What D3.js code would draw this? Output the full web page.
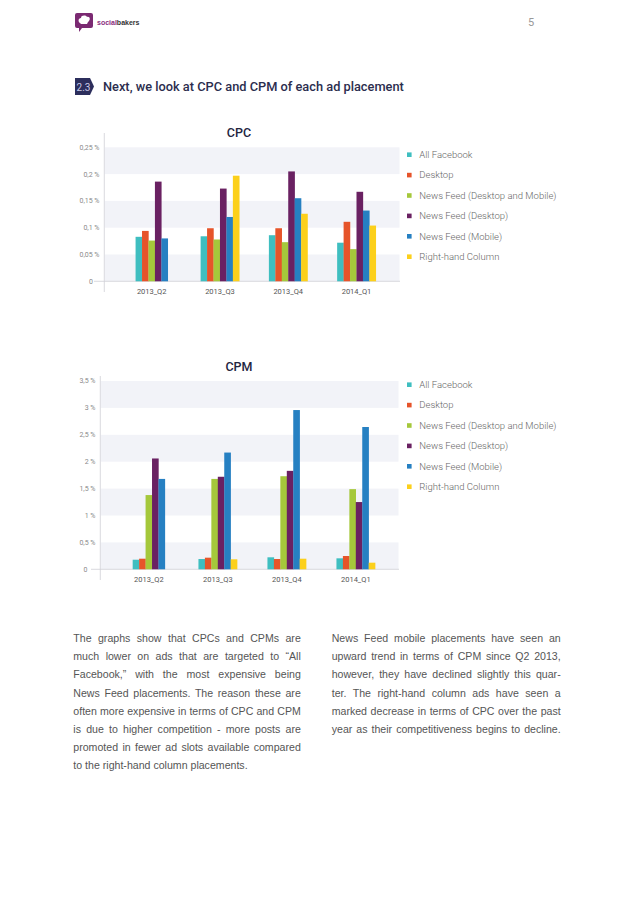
<!DOCTYPE html>
<meta charset="utf-8">
<style>
  body { margin: 0; background: #fff; width: 638px; height: 903px; position: relative; overflow: hidden; }
  svg { position: absolute; left: 0; top: 0; }
  .col { position: absolute; font: 10.6px "Liberation Sans", Arial, sans-serif; color: #555; }
  .col div { height: 18.2px; line-height: 18.2px; text-align: justify; text-align-last: justify; white-space: nowrap; }
  .col div.last { text-align-last: left; }
</style>
<body>
<svg width="638" height="903"></svg>
<script src="https://d3js.org/d3.v7.min.js"></script>
<script>

// categories and series
var quarters = ["2013_Q2", "2013_Q3", "2013_Q4", "2014_Q1"];
var series = ["All Facebook", "Desktop", "News Feed (Desktop and Mobile)",
              "News Feed (Desktop)", "News Feed (Mobile)", "Right-hand Column"];
var colors = ["#3fbec0", "#e6542a", "#a5c83b", "#6a2162", "#2680c2", "#fcd01b"];

// CPC values (in %) per series, one per quarter
var cpcAllFacebook      = [0.083, 0.084, 0.086, 0.072];
var cpcDesktop          = [0.094, 0.099, 0.099, 0.111];
var cpcNewsFeedAll      = [0.076, 0.078, 0.073, 0.060];
var cpcNewsFeedDesktop  = [0.186, 0.173, 0.205, 0.167];
var cpcNewsFeedMobile   = [0.080, 0.120, 0.155, 0.132];
var cpcRightHand        = [null,  0.197, 0.126, 0.104];

// CPM values (in %) per series, one per quarter
var cpmAllFacebook      = [0.178, 0.191, 0.223, 0.204];
var cpmDesktop          = [0.197, 0.216, 0.191, 0.247];
var cpmNewsFeedAll      = [1.38, 1.68, 1.73, 1.49];
var cpmNewsFeedDesktop  = [2.06, 1.72, 1.83, 1.25];
var cpmNewsFeedMobile   = [1.68, 2.17, 2.96, 2.645];
var cpmRightHand        = [null, 0.186, 0.197, 0.123];

// axis ticks
var cpcTicks = [0, 0.05, 0.1, 0.15, 0.2, 0.25];
var cpmTicks = [0, 0.5, 1, 1.5, 2, 2.5, 3, 3.5];

var leftText = [
  "The graphs show that CPCs and CPMs are",
  "much lower on ads that are targeted to \u201cAll",
  "Facebook,\u201d with the most expensive being",
  "News Feed placements. The reason these are",
  "often more expensive in terms of CPC and CPM",
  "is due to higher competition - more posts are",
  "promoted in fewer ad slots available compared",
  "to the right-hand column placements."
];
var rightText = [
  "News Feed mobile placements have seen an",
  "upward trend in terms of CPM since Q2 2013,",
  "however, they have declined slightly this quar-",
  "ter. The right-hand column ads have seen a",
  "marked decrease in terms of CPC over the past",
  "year as their competitiveness begins to decline."
];

var svg = d3.select("svg");

// ---- header ----
var logo = svg.append("g").attr("transform", "translate(75,13)");
logo.append("path")
    .attr("d", "M2,0 H16 a2,2 0 0 1 2,2 V13 a2,2 0 0 1 -2,2 H7 L4,19 V15 H2 a2,2 0 0 1 -2,-2 V2 a2,2 0 0 1 2,-2 Z")
    .attr("fill", "#7b2a72");
logo.append("path")
    .attr("d", "M5,10 C3,9 3,5 6,5 C6,2 11,2 12,4 C15,3 16,7 13,9 L12,11 H6 Z")
    .attr("fill", "#fff");
var brand = svg.append("text")
    .attr("x", 97).attr("y", 24.5)
    .style("font", "bold 7px 'Liberation Sans', Arial, sans-serif");
brand.append("tspan").attr("fill", "#8a2d7e").text("social");
brand.append("tspan").attr("fill", "#333").text("bakers");

svg.append("text")
    .attr("x", 531).attr("y", 26)
    .attr("text-anchor", "middle")
    .style("font", "11px Roboto, sans-serif")
    .attr("fill", "#999")
    .text("5");

// ---- section heading ----
svg.append("path")
    .attr("d", "M75,78 H90 L94,86.5 L90,95 H75 Z")
    .attr("fill", "#2c2e5c");
svg.append("text")
    .attr("x", 83.5).attr("y", 90.5)
    .attr("text-anchor", "middle")
    .style("font", "10px Roboto, sans-serif")
    .attr("fill", "#c9c9e6")
    .text("2.3");
svg.append("text")
    .attr("x", 103).attr("y", 91)
    .style("font", "500 12.8px Roboto, sans-serif")
    .attr("fill", "#2b2d4e")
    .text("Next, we look at CPC and CPM of each ad placement");

// ---- charts ----
function fmtTick(v) {
  return v === 0 ? "0" : String(v).replace(".", ",") + " %";
}

function drawChart(opt) {
  var g = svg.append("g");
  var y = d3.scaleLinear().domain([0, opt.ticks[opt.ticks.length - 1]]).range([opt.y0, opt.y1]);
  var x = d3.scalePoint().domain(quarters).range([opt.cx0, opt.cx1]);
  var barW = 6.45;

  // alternating bands
  for (var i = 0; i < opt.ticks.length - 1; i += 2) {
    g.append("rect")
        .attr("x", opt.left + 0.5)
        .attr("y", y(opt.ticks[i + 1]))
        .attr("width", opt.right - opt.left)
        .attr("height", y(opt.ticks[i]) - y(opt.ticks[i + 1]))
        .attr("fill", "#f2f3f8");
  }

  // y tick labels
  g.selectAll(".ytick")
    .data(opt.ticks)
    .enter().append("text")
      .attr("x", function(d) { return d === 0 ? opt.labelX - opt.zeroShift : opt.labelX; })
      .attr("y", function(d) { return y(d); })
      .attr("dy", "0.35em")
      .attr("text-anchor", "end")
      .style("font", "7px Roboto, sans-serif")
      .attr("fill", "#8a8a8a")
      .text(fmtTick);

  // axis lines
  g.append("line")
      .attr("x1", opt.left).attr("x2", opt.left)
      .attr("y1", opt.axisTop).attr("y2", opt.axisBottom)
      .attr("stroke", "#cfcfd6").attr("stroke-width", 0.8);
  g.append("line")
      .attr("x1", opt.baseLeft).attr("x2", opt.right + 1)
      .attr("y1", y(0)).attr("y2", y(0))
      .attr("stroke", "#cfcfd6").attr("stroke-width", 0.8);

  // bars, each group centred on its label using only the series present
  quarters.forEach(function(q, qi) {
    var present = [];
    opt.values.forEach(function(arr, si) {
      if (arr[qi] != null) present.push({ s: si, v: arr[qi] });
    });
    var start = x(q) - present.length * barW / 2;
    g.selectAll(null)
      .data(present)
      .enter().append("rect")
        .attr("x", function(d, k) { return start + k * barW; })
        .attr("y", function(d) { return y(d.v); })
        .attr("width", barW + 0.2)
        .attr("height", function(d) { return y(0) - y(d.v); })
        .attr("fill", function(d) { return colors[d.s]; });
  });

  // category labels
  g.selectAll(".xtick")
    .data(quarters)
    .enter().append("text")
      .attr("x", function(d) { return x(d); })
      .attr("y", opt.catY)
      .attr("text-anchor", "middle")
      .style("font", "7.5px Roboto, sans-serif")
      .attr("fill", "#555")
      .text(function(d) { return d; });

  // title
  g.append("text")
      .attr("x", 239).attr("y", opt.titleY)
      .attr("text-anchor", "middle")
      .style("font", "500 12.5px Roboto, sans-serif")
      .attr("fill", "#23253f")
      .text(opt.title);

  // legend
  var lg = g.selectAll(".legend")
    .data(series)
    .enter().append("g")
      .attr("transform", function(d, i) { return "translate(407," + (opt.legendY + i * 20.4) + ")"; });
  lg.append("rect")
      .attr("x", 0).attr("y", -2.3)
      .attr("width", 4.6).attr("height", 4.6)
      .attr("fill", function(d, i) { return colors[i]; });
  lg.append("text")
      .attr("x", 12.3).attr("dy", "0.35em")
      .style("font", "300 9.5px Roboto, sans-serif")
      .attr("fill", "#666")
      .text(function(d) { return d; });
}

drawChart({
  title: "CPC", titleY: 136.5,
  ticks: cpcTicks,
  values: [cpcAllFacebook, cpcDesktop, cpcNewsFeedAll, cpcNewsFeedDesktop, cpcNewsFeedMobile, cpcRightHand],
  y0: 281.3, y1: 147.3,
  left: 104.3, right: 399, baseLeft: 94,
  axisTop: 133, axisBottom: 292,
  cx0: 151.7, cx1: 356.5,
  labelX: 99.5, zeroShift: 6.5,
  catY: 294,
  legendY: 154.7
});

drawChart({
  title: "CPM", titleY: 371,
  ticks: cpmTicks,
  values: [cpmAllFacebook, cpmDesktop, cpmNewsFeedAll, cpmNewsFeedDesktop, cpmNewsFeedMobile, cpmRightHand],
  y0: 569.3, y1: 381,
  left: 100.3, right: 398, baseLeft: 91,
  axisTop: 376, axisBottom: 580,
  cx0: 148.8, cx1: 355.8,
  labelX: 95.5, zeroShift: 8,
  catY: 582,
  legendY: 384.7
});

// ---- body text ----
function column(lines, left, width, justifyLast) {
  var col = d3.select("body").append("div")
      .attr("class", "col")
      .style("left", left + "px")
      .style("top", "629px")
      .style("width", width + "px");
  col.selectAll("div")
    .data(lines)
    .enter().append("div")
      .classed("last", function(d, i) { return !justifyLast && i === lines.length - 1; })
      .text(function(d) { return d; });
}
column(leftText, 73.3, 227.5, false);
column(rightText, 331.7, 229, true);

</script>
</body>
